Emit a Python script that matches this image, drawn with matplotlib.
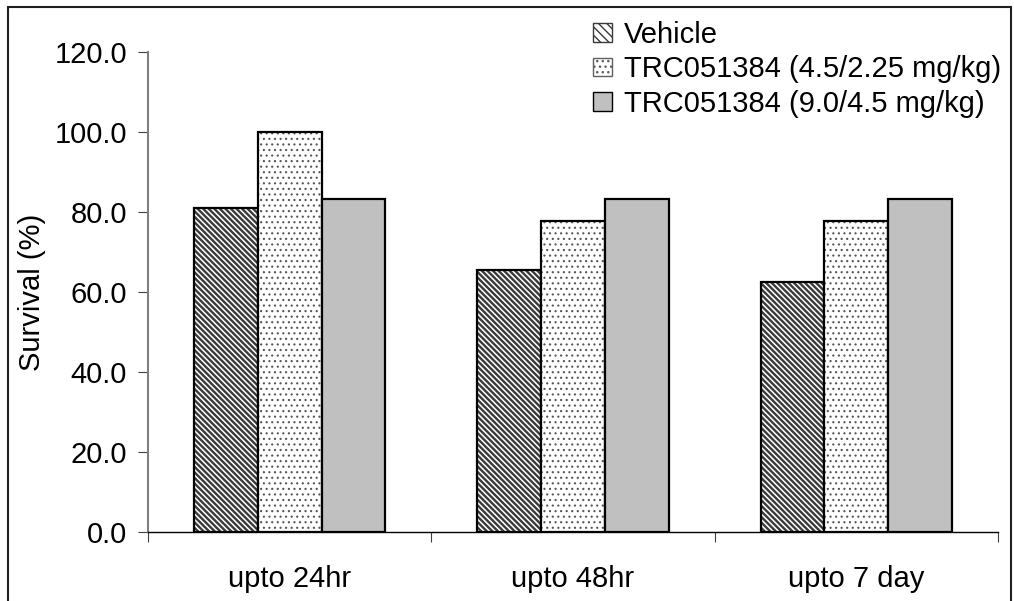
import numpy as np
import matplotlib
matplotlib.use('Agg')
import matplotlib.pyplot as plt
from matplotlib.patches import Rectangle, Patch

plt.rcParams['font.family'] = ['Liberation Sans', 'DejaVu Sans']

categories = ['upto 24hr', 'upto 48hr', 'upto 7 day']
series = ['Vehicle', 'TRC051384 (4.5/2.25 mg/kg)', 'TRC051384 (9.0/4.5 mg/kg)']
vehicle = [81.0, 65.6, 62.5]
low_dose = [100.0, 77.8, 77.8]
high_dose = [83.3, 83.3, 83.3]

fs = 21
fig = plt.figure(figsize=(10.14, 6.01), dpi=100)
ax = fig.add_axes([148/1014, 1-532/601, 850/1014, 480/601])

x = np.arange(len(categories))
w = 0.225

# vehicle: diagonal stripes
with plt.rc_context({'hatch.linewidth': 1.7}):
    b1 = ax.bar(x - w, vehicle, w, color='white', edgecolor='#3a3a3a', hatch='\\' * 6, linewidth=0)
for p in b1:
    if hasattr(p, 'set_hatch_linewidth'):
        p.set_hatch_linewidth(1.7)
ax.bar(x - w, vehicle, w, fill=False, edgecolor='black', linewidth=1.6)

# low dose: dots
with plt.rc_context({'hatch.linewidth': 0.8}):
    b2 = ax.bar(x, low_dose, w, color='white', edgecolor='#555555', hatch='...', linewidth=0)
for p in b2:
    if hasattr(p, 'set_hatch_linewidth'):
        p.set_hatch_linewidth(0.8)
ax.bar(x, low_dose, w, fill=False, edgecolor='black', linewidth=1.6)

# high dose: solid gray
ax.bar(x + w, high_dose, w, color='#c0c0c0', edgecolor='black', linewidth=1.6)

ax.set_xlim(-0.5, 2.5)
ax.set_ylim(0, 120)
ax.set_yticks(np.arange(0, 121, 20))
ax.set_yticklabels(['%.1f' % v for v in np.arange(0, 121, 20)], fontsize=fs)
ax.tick_params(axis='y', length=7.2, pad=8, color='#404040')

ax.set_xticks(np.arange(-0.5, 2.6, 1))
ax.set_xticklabels([])
ax.set_xticks(x, minor=True)
ax.set_xticklabels(categories, minor=True, fontsize=fs)
ax.tick_params(axis='x', which='major', length=7.2, color='#404040')
ax.tick_params(axis='x', which='minor', length=0, pad=24)

ax.spines['top'].set_visible(False)
ax.spines['right'].set_visible(False)
ax.spines['left'].set_color('#808080')
ax.spines['left'].set_linewidth(1.5)
ax.spines['bottom'].set_color('black')
ax.spines['bottom'].set_linewidth(1.0)

ax.set_ylabel('Survival (%)', fontsize=fs, labelpad=6)

handles = [
    Patch(facecolor='white', edgecolor='#3a3a3a', hatch='\\' * 4, linewidth=1.0),
    Patch(facecolor='white', edgecolor='#606060', hatch='...', linewidth=1.0),
    Patch(facecolor='#c0c0c0', edgecolor='black', linewidth=1.0),
]
fig.legend(handles, series, loc='upper left', bbox_to_anchor=(593/1014, 1-21/601),
           frameon=False, fontsize=fs, handlelength=0.65, handleheight=0.6,
           handletextpad=0.4, labelspacing=0.22, borderpad=0, borderaxespad=0)

fig.patches.append(Rectangle((8/1014, -0.02), 1003/1014, 1.02 - 7/601,
                             transform=fig.transFigure, fill=False,
                             edgecolor='#202020', linewidth=1.5))

fig.savefig('out.png', dpi=100)
